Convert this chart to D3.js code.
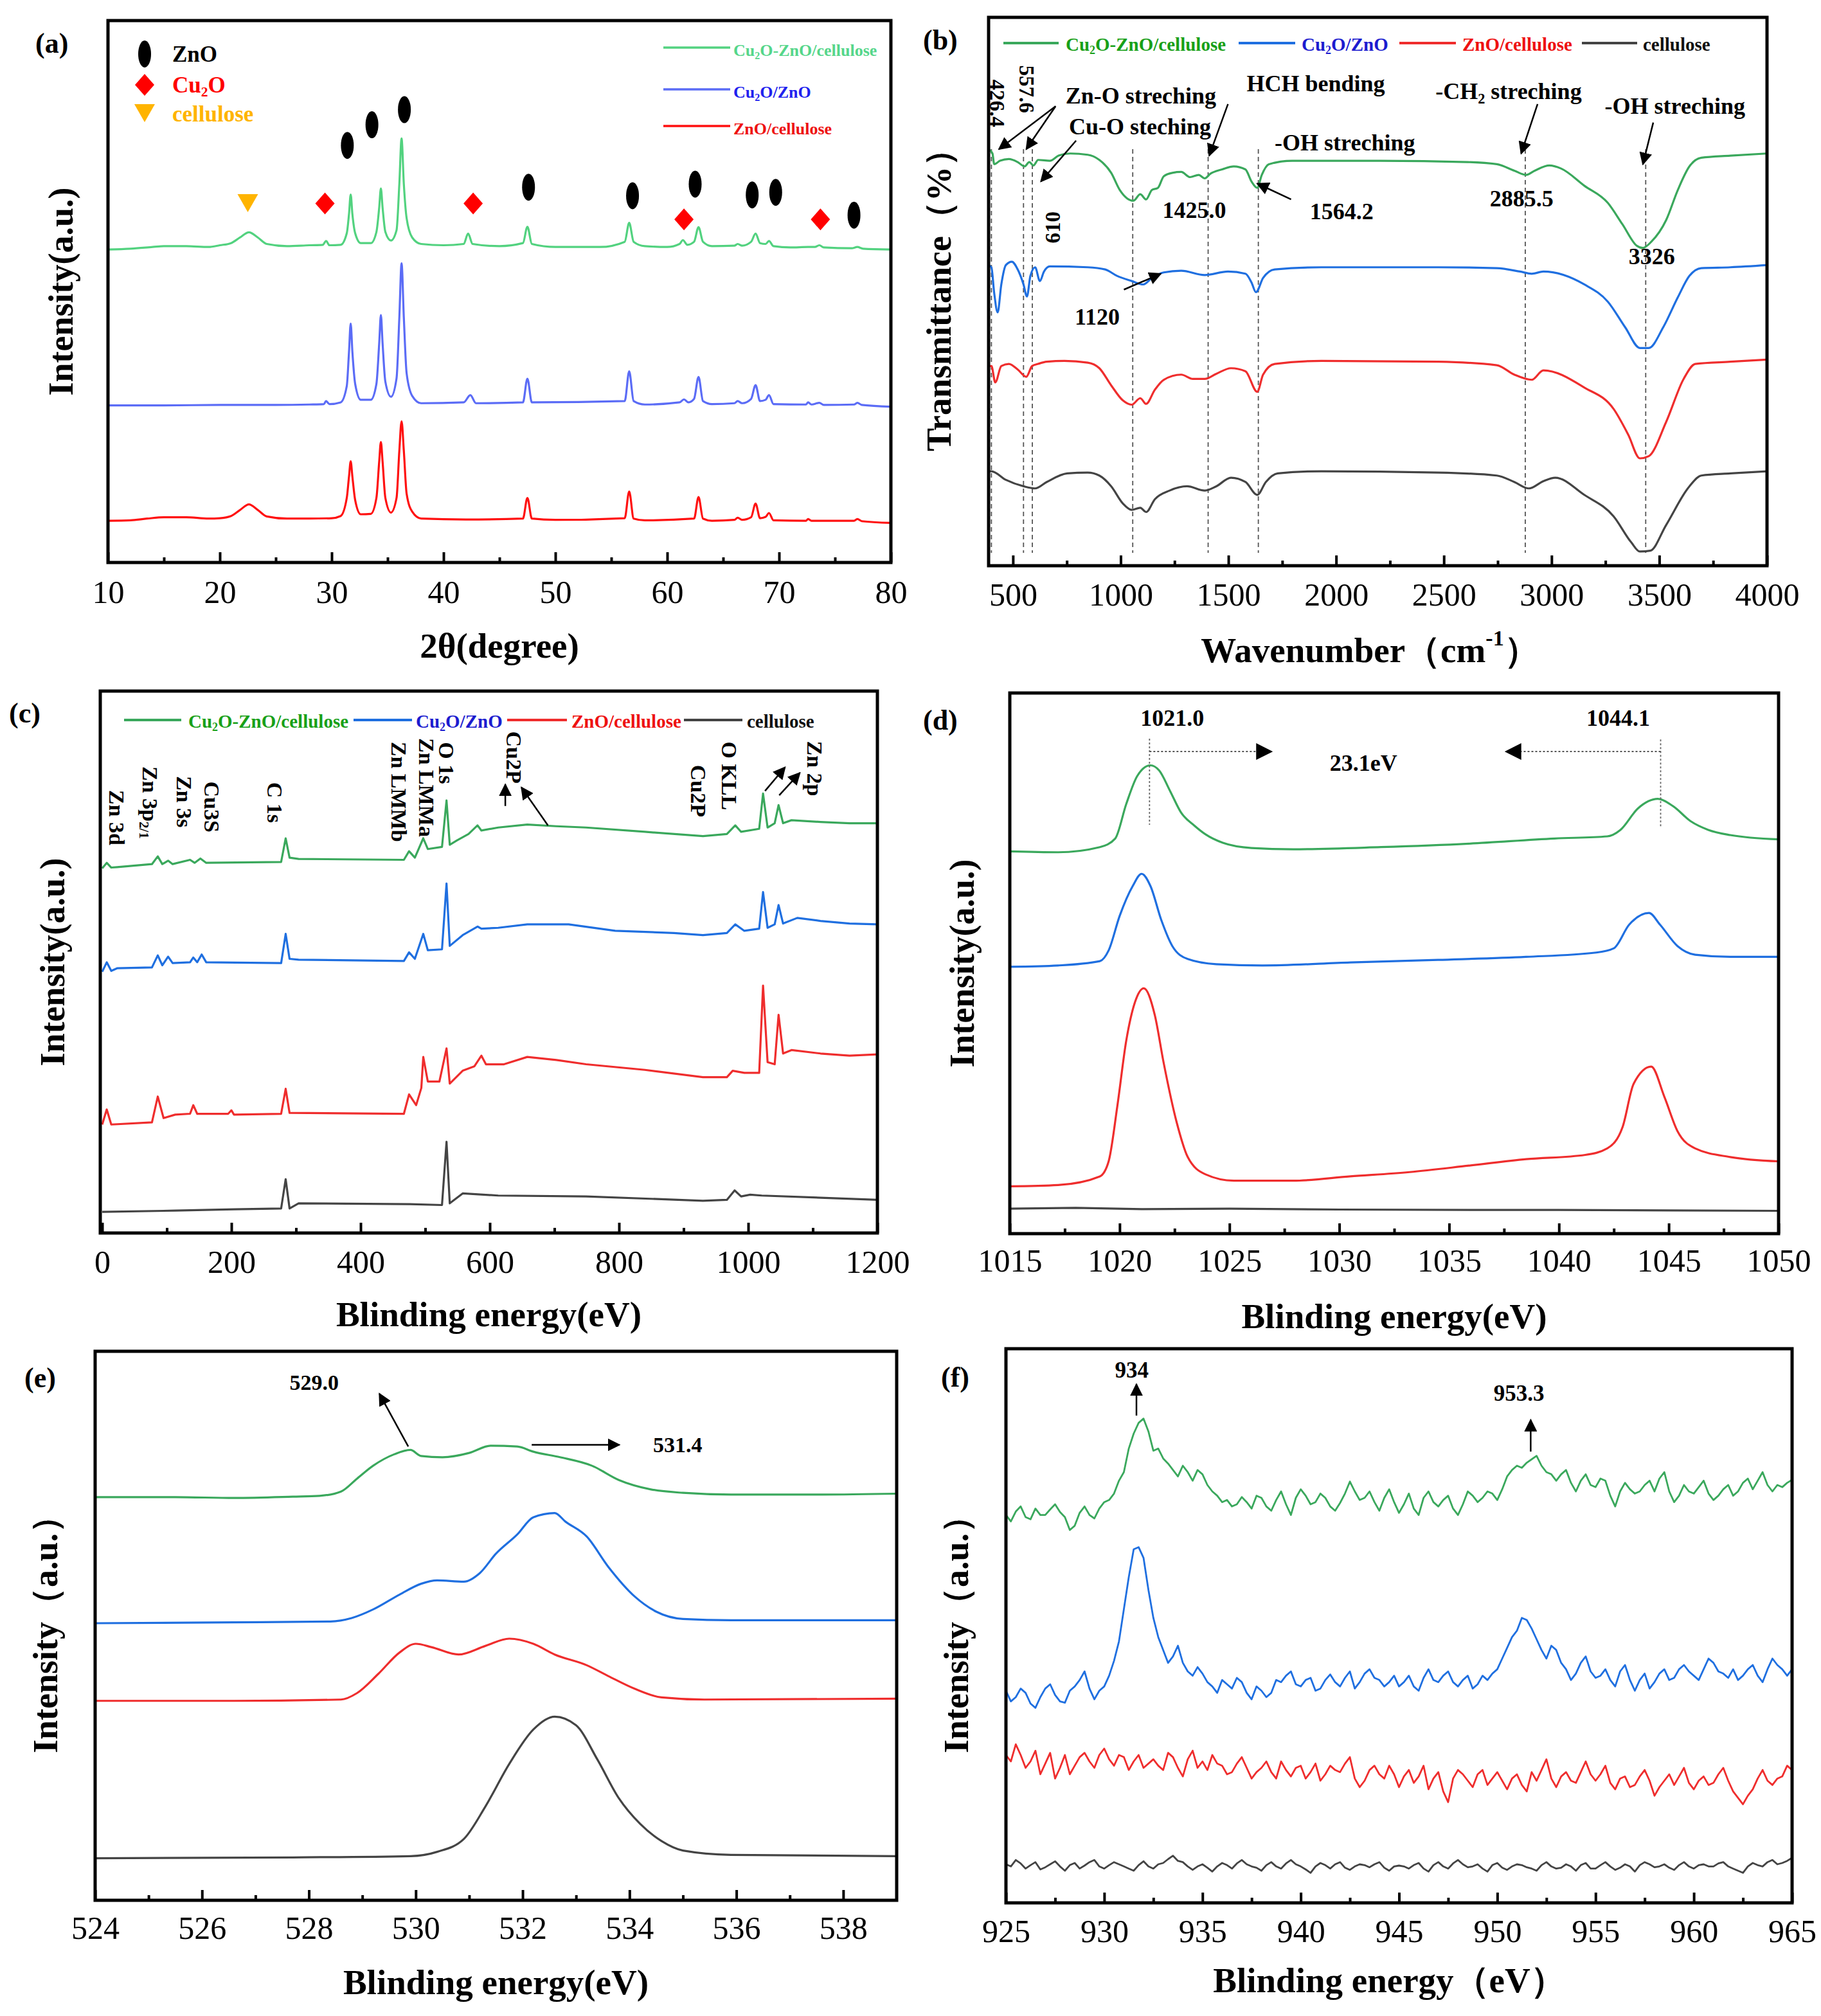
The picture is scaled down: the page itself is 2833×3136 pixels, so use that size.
<!DOCTYPE html>
<html><head><meta charset="utf-8">
<script src="https://cdn.jsdelivr.net/npm/d3@7"></script>
<style>body{margin:0;background:#fff} svg text{font-family:"Liberation Serif","Times New Roman",serif}</style>
</head><body>
<svg id="fig" width="2833" height="3136" xmlns="http://www.w3.org/2000/svg"></svg>
<script>
// ---------------- DATA ----------------
const seriesNames = ["Cu2O-ZnO/cellulose","Cu2O/ZnO","ZnO/cellulose","cellulose"];

// (a) XRD: [2theta, intensity a.u. incl. offset]
const xrdCu2OZnOCell = [[10,727],[12,729],[14,733],[15,735],[17,735],[19,733],[20,737],[21,742],[21.8,755],[22.6,767],[23.4,755],[24.2,740],[26,735],[28,737],[29.2,738],[29.5,747],[29.8,737],[30.8,738],[31.35,765],[31.55,810],[31.7,855],[31.85,810],[32.1,765],[32.6,742],[33.5,742],[34.0,768],[34.25,825],[34.4,869],[34.55,825],[34.8,768],[35.3,748],[35.8,772],[36.05,880],[36.25,985],[36.45,880],[36.7,800],[37.2,755],[38,740],[40,737],[41.8,740],[42.2,764],[42.6,740],[45,735],[47.1,742],[47.5,780],[47.9,740],[50,733],[54,733],[56.2,745],[56.6,789],[57,745],[58,735],[60,733],[61.1,740],[61.4,749],[61.8,738],[62.4,745],[62.8,779],[63.2,745],[64,735],[66,736],[66.3,740],[66.7,736],[67.5,745],[67.9,764],[68.3,742],[68.8,740],[69.1,747],[69.5,735],[71,732],[72.6,733],[73.2,733],[73.6,737],[74,732],[76.5,730],[77,733],[77.5,729],[80,727]];
const xrdCu2OZnO = [[10,365],[15,365],[20,366],[25,366],[28,367],[29.3,368],[29.5,375],[29.8,368],[30.8,372],[31.35,410],[31.55,490],[31.7,555],[31.85,490],[32.1,415],[32.6,378],[33.5,378],[34.0,415],[34.25,510],[34.4,575],[34.55,510],[34.8,420],[35.3,385],[35.8,428],[36.05,570],[36.25,695],[36.45,570],[36.7,440],[37.2,387],[38,370],[41.8,372],[42.4,389],[42.9,370],[47.1,372],[47.5,427],[47.9,372],[56.2,375],[56.6,444],[57,375],[58,367],[61.1,372],[61.5,379],[61.9,372],[62.4,380],[62.8,431],[63.2,375],[64,368],[66,370],[66.3,375],[66.7,370],[67.5,380],[67.9,412],[68.3,375],[68.8,378],[69.1,389],[69.5,368],[72.4,367],[72.6,372],[72.9,367],[73.6,371],[74,366],[76.7,367],[77,371],[77.4,366],[80,362]];
const xrdZnOCell = [[10,97],[12,98],[13.5,102],[15,105],[17,105],[19,102],[20,103],[21,108],[21.8,122],[22.6,135],[23.4,122],[24.2,107],[26,102],[28,102],[30,103],[30.8,108],[31.35,150],[31.55,200],[31.7,235],[31.85,200],[32.1,145],[32.6,112],[33.5,113],[34.0,150],[34.25,235],[34.4,280],[34.55,235],[34.8,150],[35.3,116],[35.8,150],[36.05,260],[36.25,328],[36.45,260],[36.7,160],[37.2,118],[38,102],[42,100],[47.1,102],[47.5,150],[47.9,102],[50,99],[56.2,103],[56.6,165],[57,102],[58,98],[62.4,102],[62.8,152],[63.2,102],[64,97],[66,99],[66.3,104],[66.7,99],[67.5,105],[67.9,137],[68.3,103],[68.8,106],[69.1,115],[69.5,98],[72.4,97],[72.6,101],[72.9,97],[76.7,97],[77,101],[77.4,96],[80,92]];
const xrdZnOMarks = [[31.4,969],[33.6,1017],[36.5,1052],[47.6,872],[56.9,852],[62.5,879],[67.6,854],[69.7,860],[76.7,807]];
const xrdCu2OMarks = [[29.4,834],[42.65,834],[61.5,797],[73.7,797]];
const xrdCellMarks = [[22.5,835]];
const xrdTicks = [10,20,30,40,50,60,70,80];

// (b) FTIR: [wavenumber, transmittance a.u. incl. offset]
const ftirCu2OZnOCell = [[387,970],[405,960],[413,935],[440,943],[481,947],[522,940],[554,930],[576,940],[595,932],[617,945],[671,943],[712,955],[766,960],[847,957],[901,945],[956,915],[996,875],[1059,850],[1091,865],[1118,853],[1145,875],[1173,880],[1200,907],[1240,915],[1281,917],[1322,905],[1362,910],[1390,902],[1417,913],[1471,923],[1525,930],[1579,923],[1607,895],[1634,880],[1655,910],[1688,935],[1796,943],[2203,943],[2610,940],[2746,935],[2827,920],[2881,910],[2922,920],[2990,932],[3044,925],[3152,885],[3261,845],[3329,795],[3396,745],[3423,740],[3464,755],[3532,805],[3586,875],[3640,930],[3695,950],[3830,955],[4000,960]];
const ftirCu2OZnO = [[387,700],[400,695],[413,635],[429,590],[446,655],[467,700],[495,708],[522,690],[549,655],[565,627],[581,675],[603,695],[625,663],[644,685],[671,697],[847,695],[928,690],[983,675],[1051,663],[1105,655],[1145,670],[1200,683],[1281,687],[1390,677],[1498,685],[1579,680],[1607,660],[1628,637],[1661,670],[1715,690],[1932,695],[2474,695],[2746,693],[2854,685],[2908,680],[2962,685],[3152,655],[3261,615],[3342,555],[3410,507],[3451,507],[3518,555],[3586,625],[3640,675],[3695,693],[3830,695],[4000,700]];
const ftirZnOCell = [[387,465],[400,465],[418,427],[446,465],[481,470],[522,457],[562,440],[589,465],[617,470],[657,475],[739,477],[847,473],[901,460],[956,420],[1010,385],[1051,375],[1091,390],[1118,377],[1159,410],[1200,433],[1281,445],[1335,435],[1390,435],[1444,447],[1512,460],[1579,453],[1634,405],[1661,445],[1715,470],[1932,477],[2474,475],[2746,467],[2827,445],[2908,433],[2962,455],[3152,415],[3288,365],[3356,305],[3410,250],[3451,255],[3532,335],[3613,435],[3667,470],[3830,475],[4000,480]];
const ftirCell = [[387,220],[400,220],[467,200],[549,185],[603,180],[657,195],[752,215],[847,217],[901,210],[956,185],[1010,145],[1051,130],[1091,135],[1118,125],[1159,155],[1227,175],[1308,185],[1390,175],[1444,185],[1512,205],[1579,195],[1634,165],[1674,195],[1729,215],[1932,220],[2474,217],[2746,210],[2827,195],[2895,180],[2962,197],[3017,205],[3152,165],[3288,115],[3369,55],[3410,33],[3458,35],[3532,95],[3640,185],[3695,210],[3830,215],[4000,220]];
const ftirMarkLines = [400,549,590,1056,1406,1639,2878,3437];
const ftirTicks = [500,1000,1500,2000,2500,3000,3500,4000];

// (c) XPS survey: [binding energy, intensity]
const surveyCu2OZnOCell = [[0,847],[7,860],[14,849],[23,850],[77,857],[86,875],[93,857],[102,865],[109,857],[136,867],[143,860],[152,870],[161,860],[277,862],[284,917],[290,872],[304,869],[467,867],[475,887],[484,872],[497,917],[504,892],[526,897],[533,1005],[538,902],[549,912],[567,927],[581,947],[587,935],[613,942],[658,949],[703,945],[749,942],[840,932],[930,922],[967,927],[980,947],[989,932],[1017,939],[1023,1021],[1030,942],[1041,952],[1047,994],[1054,952],[1067,959],[1112,955],[1157,952],[1200,952]];
const surveyCu2OZnO = [[0,607],[7,629],[14,609],[23,615],[77,617],[86,645],[93,622],[102,642],[109,627],[136,629],[141,640],[147,629],[154,647],[161,629],[277,627],[284,695],[290,637],[304,635],[467,632],[475,652],[484,637],[497,695],[504,657],[526,659],[533,812],[538,667],[558,692],[581,712],[587,707],[613,709],[658,717],[722,717],[794,702],[885,697],[930,692],[967,697],[980,717],[994,702],[1017,707],[1023,792],[1030,709],[1041,717],[1047,762],[1054,719],[1076,732],[1112,725],[1157,719],[1200,717]];
const surveyZnOCell = [[0,252],[7,287],[14,252],[77,257],[86,317],[95,267],[113,275],[136,277],[141,297],[147,277],[195,277],[200,285],[204,275],[277,277],[284,335],[290,279],[467,277],[475,322],[486,297],[494,337],[497,409],[504,352],[522,352],[533,429],[538,347],[558,377],[576,387],[587,412],[594,392],[622,392],[658,409],[703,402],[749,392],[840,379],[930,362],[967,362],[976,377],[994,372],[1017,372],[1023,575],[1030,397],[1041,392],[1047,507],[1054,417],[1067,425],[1112,417],[1157,412],[1200,415]];
const surveyCell = [[0,49],[113,52],[204,55],[277,57],[284,125],[290,57],[304,69],[477,67],[526,65],[533,212],[538,69],[558,92],[613,87],[749,85],[930,75],[967,77],[979,99],[989,85],[1003,89],[1021,87],[1112,82],[1200,77]];
const surveyTicks = [0,200,400,600,800,1000,1200];

// (d) Zn 2p
const zn2pCu2OZnOCell = [[1015,888],[1017.2,886],[1019.1,898],[1019.8,918],[1020.3,998],[1020.8,1063],[1021.4,1088],[1021.8,1076],[1022.3,1028],[1022.8,978],[1023.4,948],[1023.9,928],[1024.7,908],[1026.0,896],[1027.9,893],[1031.9,898],[1035.9,906],[1039.8,918],[1042.2,923],[1042.8,938],[1043.6,988],[1044.5,1010],[1045.2,993],[1046.0,958],[1046.8,938],[1047.8,926],[1050,916]];
const zn2pCu2OZnO = [[1015,620],[1017.2,623],[1019.1,633],[1019.5,658],[1020.0,738],[1020.6,808],[1021.0,836],[1021.4,808],[1021.9,728],[1022.4,668],[1023.1,638],[1024.4,626],[1026.5,623],[1030.5,630],[1034.5,636],[1038.5,643],[1041.7,653],[1042.5,663],[1043.2,718],[1044.1,745],[1044.6,718],[1045.4,668],[1046.2,648],[1047.8,643],[1050,643]];
const zn2pZnOCell = [[1015,110],[1017.2,113],[1019.1,133],[1019.5,168],[1019.9,298],[1020.3,448],[1020.7,538],[1021.1,570],[1021.6,508],[1022.0,398],[1022.6,258],[1023.1,178],[1023.9,138],[1025.2,123],[1027.9,123],[1030.5,133],[1033.2,143],[1035.9,158],[1038.5,173],[1041.2,183],[1042.2,198],[1042.9,248],[1043.4,348],[1044.2,388],[1044.8,318],[1045.4,238],[1046.2,198],[1047.8,178],[1050,168]];
const zn2pCell = [[1015,58],[1018,60],[1021,57],[1025,58],[1030,56],[1036,55],[1040,55],[1045,54],[1050,53]];
const zn2pTicks = [1015,1020,1025,1030,1035,1040,1045,1050];

// (e) O 1s
const o1sCu2OZnOCell = [[524,940],[525.5,940],[526.6,938],[527.7,941],[528.2,943],[528.6,953],[528.9,983],[529.2,1013],[529.6,1040],[529.9,1050],[530.1,1036],[530.5,1033],[531.0,1043],[531.4,1060],[531.9,1058],[532.2,1046],[532.7,1033],[533.3,1013],[533.8,980],[534.4,958],[535.0,950],[535.9,946],[537.6,946],[539,948]];
const o1sCu2OZnO = [[524,646],[526.6,648],[528.4,650],[528.8,658],[529.2,678],[529.7,713],[530.1,738],[530.4,746],[530.9,743],[531.2,763],[531.5,808],[531.9,853],[532.2,893],[532.6,903],[532.8,883],[533.2,848],[533.6,778],[534.1,708],[534.5,673],[535.0,656],[535.9,653],[539,653]];
const o1sZnOCell = [[524,465],[526.6,465],[528.6,468],[528.9,483],[529.3,528],[529.7,578],[530.0,598],[530.3,590],[530.8,573],[531.3,593],[531.75,610],[532.2,598],[532.6,573],[533.2,548],[533.6,523],[534.1,493],[534.6,473],[535.4,468],[539,470]];
const o1sCell = [[524,98],[527.7,100],[529.9,103],[530.4,113],[530.9,143],[531.3,218],[531.75,318],[532.2,398],[532.6,428],[533.0,408],[533.4,328],[533.8,238],[534.2,178],[534.6,138],[535.0,116],[535.9,106],[539,103]];
const o1sTicks = [524,526,528,530,532,534,536,538];

// (f) Cu 2p : readings at half-eV points and at the quarter points between them
const cu2pEnergy = [925,925.5,926,926.5,927,927.5,928,928.5,929,929.5,930,930.5,931,931.5,932,932.5,933,933.5,934,934.5,935,935.5,936,936.5,937,937.5,938,938.5,939,939.5,940,940.5,941,941.5,942,942.5,943,943.5,944,944.5,945,945.5,946,946.5,947,947.5,948,948.5,949,949.5,950,950.5,951,951.5,952,952.5,953,953.5,954,954.5,955,955.5,956,956.5,957,957.5,958,958.5,959,959.5,960,960.5,961,961.5,962,962.5,963,963.5,964,964.5,965];
const cu2pCu2OZnOCell = [905,913,900,920,905,930,900,880,925,897,935,955,1005,1095,1130,1055,1037,1010,1020,985,1000,960,935,925,947,920,945,915,960,905,965,930,955,925,933,983,940,960,915,965,910,955,905,960,925,950,905,960,935,960,940,995,1020,1027,1043,1005,985,1010,960,1000,970,985,925,980,955,975,960,1005,935,975,955,985,940,965,950,980,965,1005,960,970,987];
const cu2pCu2OZnO = [495,480,490,455,500,485,467,505,540,475,505,565,685,825,805,665,590,575,560,530,535,505,520,500,515,475,495,490,515,540,505,525,500,533,505,540,515,545,520,515,505,530,495,545,515,540,505,530,510,520,545,595,635,660,615,570,590,545,535,575,525,545,505,555,495,535,515,545,525,555,530,545,560,535,545,530,555,515,570,545,545];
const cu2pZnOCell = [345,370,315,355,325,290,345,320,350,315,360,320,340,330,315,335,310,340,295,355,330,345,320,305,340,290,315,305,330,295,320,305,285,320,305,340,270,310,300,320,270,310,295,265,305,235,310,285,300,275,305,265,300,260,285,335,270,305,280,330,285,320,265,295,275,310,250,285,275,315,265,295,280,315,260,230,265,310,275,295,310];
const cu2pCell = [90,100,80,95,83,97,75,93,87,100,80,95,85,75,97,80,93,110,95,77,90,73,93,80,100,85,75,95,80,100,85,70,93,80,95,77,90,83,95,75,87,80,93,73,95,80,100,83,90,73,93,77,90,83,75,95,80,90,75,93,80,95,77,90,73,95,83,90,77,95,80,90,85,95,80,70,93,85,100,93,105];
const cu2pEnergyMid = [925.25,925.75,926.25,926.75,927.25,927.75,928.25,928.75,929.25,929.75,930.25,930.75,931.25,931.75,932.25,932.75,933.25,933.75,934.25,934.75,935.25,935.75,936.25,936.75,937.25,937.75,938.25,938.75,939.25,939.75,940.25,940.75,941.25,941.75,942.25,942.75,943.25,943.75,944.25,944.75,945.25,945.75,946.25,946.75,947.25,947.75,948.25,948.75,949.25,949.75,950.25,950.75,951.25,951.75,952.25,952.75,953.25,953.75,954.25,954.75,955.25,955.75,956.25,956.75,957.25,957.75,958.25,958.75,959.25,959.75,960.25,960.75,961.25,961.75,962.25,962.75,963.25,963.75,964.25,964.75];
const cu2pCu2OZnOCellMid = [890,925,895,905,918,912,870,910,905,920,940,985,1060,1120,1100,1060,1025,995,1005,1010,975,950,940,930,935,950,925,940,930,945,950,935,945,915,955,960,945,935,945,935,930,920,945,935,940,920,930,950,945,955,965,1010,1015,1035,1020,1000,1000,980,985,975,990,950,960,965,960,985,990,960,950,960,970,955,950,975,960,990,985,975,975,980];
const cu2pCu2OZnOMid = [470,500,465,480,510,470,495,520,500,495,530,610,760,830,730,620,560,600,540,550,515,490,510,525,490,505,480,520,530,510,520,495,520,515,525,500,535,525,505,530,515,505,525,520,530,515,520,500,530,535,570,620,665,640,590,600,560,520,560,540,530,520,540,520,520,500,535,520,545,540,520,570,540,525,520,545,530,545,555,530];
const cu2pZnOCellMid = [330,345,330,300,350,315,300,340,330,345,335,345,310,345,325,320,350,315,335,315,310,325,300,325,315,305,330,290,310,315,290,325,300,310,325,290,285,320,290,300,295,280,320,290,260,290,300,270,310,290,285,290,275,305,310,290,295,285,305,300,300,280,290,270,295,285,270,300,295,280,285,275,300,285,245,250,290,285,290,320];
const cu2pCellMid = [85,92,88,78,90,85,88,80,95,85,88,90,80,88,85,90,102,98,85,85,82,85,88,92,90,82,88,85,92,90,78,85,88,90,82,85,88,90,82,85,85,88,80,88,85,92,90,85,80,88,82,85,88,80,88,85,82,85,88,80,88,85,82,85,88,90,85,82,88,85,88,85,92,85,75,85,88,95,90,98];
const cu2pTicks = [925,930,935,940,945,950,955,960,965];

// ---------------- DRAWING ----------------
const FONT = '"Liberation Serif","Times New Roman",serif';
const svg = d3.select("#fig");
svg.append("rect").attr("width",2833).attr("height",3136).attr("fill","#fff");
const defs = svg.append("defs");
defs.append("marker").attr("id","ah").attr("viewBox","0 0 10 10").attr("refX",9).attr("refY",5)
  .attr("markerWidth",20).attr("markerHeight",20).attr("markerUnits","userSpaceOnUse").attr("orient","auto")
  .append("path").attr("d","M0,0L10,5L0,10z").attr("fill","#000");
defs.append("marker").attr("id","ahBig").attr("viewBox","0 0 10 10").attr("refX",9).attr("refY",5)
  .attr("markerWidth",26).attr("markerHeight",26).attr("markerUnits","userSpaceOnUse").attr("orient","auto")
  .append("path").attr("d","M0,0L10,5L0,10z").attr("fill","#000");

function rich(g, x, y, parts, o) {
  const size = o.size;
  const t = g.append("text").attr("x",x).attr("y",y).attr("font-size",size)
    .style("font-family",FONT).attr("font-weight",o.weight||"bold").attr("fill",o.fill||"#000")
    .attr("text-anchor",o.anchor||"start").attr("dominant-baseline","central");
  if (o.rot) t.attr("transform",`rotate(${o.rot},${x},${y})`);
  let shift = 0;
  parts.forEach(p => {
    const s = typeof p === "string" ? p : p[0];
    const k = typeof p === "string" ? "n" : p[1];
    const target = k==="sub" ? size*0.3 : k==="sup" ? -size*0.35 : 0;
    const ts = t.append("tspan").text(s);
    if (target - shift !== 0) ts.attr("dy", target - shift);
    if (k !== "n") ts.attr("font-size", size*0.62);
    shift = target;
  });
  return t;
}

let clipId = 0;
function panel(c) {
  const g = svg.append("g");
  const x = d3.scaleLinear().domain(c.xd).range([c.l, c.r]);
  const y = d3.scaleLinear().domain(c.yd).range([c.b, c.t]);
  const id = "clip" + (clipId++);
  defs.append("clipPath").attr("id",id).append("rect").attr("x",c.l).attr("y",c.t).attr("width",c.r-c.l).attr("height",c.b-c.t);
  const gc = g.append("g").attr("clip-path",`url(#${id})`);
  const ga = g.append("g");
  const ax = ga.append("g").attr("transform",`translate(0,${c.b})`)
    .call(d3.axisBottom(x).tickValues(c.major).tickSize(-16).tickFormat(d3.format("d")));
  ax.attr("font-family",null).style("font-family",FONT);
  ax.select(".domain").remove();
  ax.selectAll(".tick line").attr("stroke","#000").attr("stroke-width",4);
  ax.selectAll(".tick text").attr("y", c.tickY - c.b).attr("dy","0.35em").attr("font-size",50)
    .style("font-family",FONT).attr("font-weight","normal").attr("fill","#000");
  const mi = ga.append("g").attr("transform",`translate(0,${c.b})`)
    .call(d3.axisBottom(x).tickValues(c.minor).tickSize(-8).tickFormat(""));
  mi.select(".domain").remove();
  mi.selectAll(".tick line").attr("stroke","#000").attr("stroke-width",4);
  ga.append("rect").attr("x",c.l).attr("y",c.t).attr("width",c.r-c.l).attr("height",c.b-c.t)
    .attr("fill","none").attr("stroke","#000").attr("stroke-width",5);
  rich(ga, (c.l+c.r)/2 + (c.xtOff||0), c.titleY, c.xTitle, {size:55, anchor:"middle"});
  rich(ga, c.yTitleX, (c.t+c.b)/2, c.yTitle, {size:54, anchor:"middle", rot:-90});
  rich(ga, c.lab[0], c.lab[1], [c.label], {size:44, anchor:"start"});
  return {g, gc, ga, x, y};
}

function drawLine(P, data, color, curve, w) {
  P.gc.append("path").datum(data)
    .attr("d", d3.line().x(d=>P.x(d[0])).y(d=>P.y(d[1])).curve(curve||d3.curveMonotoneX))
    .attr("fill","none").attr("stroke",color).attr("stroke-width",w||3.2).attr("stroke-linejoin","round");
}
function arrow(P, x1,y1,x2,y2, marker, dash) {
  const l = P.ga.append("line").attr("x1",P.x(x1)).attr("y1",P.y(y1)).attr("x2",P.x(x2)).attr("y2",P.y(y2))
    .attr("stroke","#000").attr("stroke-width",2.5).attr("marker-end",`url(#${marker||"ah"})`);
  if (dash) l.attr("stroke-dasharray",dash).attr("stroke","#555").attr("stroke-width",2);
}
function label(P, x, y, parts, o) { return rich(P.ga, P.x(x), P.y(y), parts, o); }

const C2 = {green:"#3aa85c", blue:"#1f6fe0", red:"#ef2d2d", grey:"#444444"};
const T2 = {green:"#18a018", blue:"#1c1ccf", red:"#ee1111", grey:"#111111"};

// ===== (a) =====
const A = panel({xd:[10,80], yd:[0,1259], l:168, r:1386, t:32, b:875, major:xrdTicks, minor:[15,25,35,45,55,65,75],
  tickY:920, titleY:1004, yTitleX:95, lab:[55,67], label:"(a)",
  xTitle:["2θ(degree)"], yTitle:["Intensity(a.u.)"]});
const CA = {green:"#52d27f", blue:"#5b6cf6", red:"#ff1010"};
drawLine(A, xrdCu2OZnOCell, CA.green);
drawLine(A, xrdCu2OZnO, CA.blue);
drawLine(A, xrdZnOCell, CA.red);
A.ga.selectAll("ellipse.zno").data(xrdZnOMarks).join("ellipse").attr("class","zno")
  .attr("cx",d=>A.x(d[0])).attr("cy",d=>A.y(d[1])).attr("rx",10).attr("ry",21).attr("fill","#000");
A.ga.selectAll("path.cu2o").data(xrdCu2OMarks).join("path").attr("class","cu2o")
  .attr("d",d=>{const cx=A.x(d[0]),cy=A.y(d[1]);return `M${cx},${cy-17}L${cx+15},${cy}L${cx},${cy+17}L${cx-15},${cy}Z`;}).attr("fill","#ff0000");
A.ga.selectAll("path.cel").data(xrdCellMarks).join("path").attr("class","cel")
  .attr("d",d=>{const cx=A.x(d[0]),cy=A.y(d[1]);return `M${cx-16},${cy-14}L${cx+16},${cy-14}L${cx},${cy+14}Z`;}).attr("fill","#ffb400");
A.ga.append("ellipse").attr("cx",225).attr("cy",84).attr("rx",10).attr("ry",21).attr("fill","#000");
A.ga.append("path").attr("d","M225,115L240,132L225,149L210,132Z").attr("fill","#ff0000");
A.ga.append("path").attr("d","M209,162L241,162L225,190Z").attr("fill","#ffb400");
rich(A.ga,268,84,["ZnO"],{size:35});
rich(A.ga,268,132,["Cu",["2","sub"],"O"],{size:35,fill:"#ff0000"});
rich(A.ga,268,177,["cellulose"],{size:35,fill:"#ffb400"});
[[CA.green,"#55d68a",74,["Cu",["2","sub"],"O-ZnO/cellulose"]],[CA.blue,"#2020ee",139,["Cu",["2","sub"],"O/ZnO"]],[CA.red,"#ee1111",196,["ZnO/cellulose"]]]
 .forEach(([lc,tc,yy,parts])=>{
  A.ga.append("line").attr("x1",1032).attr("x2",1136).attr("y1",yy).attr("y2",yy).attr("stroke",lc).attr("stroke-width",3.5);
  rich(A.ga,1141,yy+4,parts,{size:26,fill:tc});
 });

// ===== (b) =====
const B = panel({xd:[387,4000], yd:[0,1277], l:1538, r:2749, t:27, b:880, major:ftirTicks, minor:[750,1250,1750,2250,2750,3250,3750],
  tickY:924, titleY:1011, xtOff:-12, yTitleX:1461, lab:[1436,62], label:"(b)",
  xTitle:["Wavenumber（cm",["-1","sup"],"）"], yTitle:["Transmittance（%）"]});
ftirMarkLines.forEach(v=>{
  B.gc.append("line").attr("x1",B.x(v)).attr("x2",B.x(v)).attr("y1",B.y(970)).attr("y2",B.y(30))
    .attr("stroke","#555").attr("stroke-width",1.8).attr("stroke-dasharray","7,5");
});
drawLine(B, ftirCu2OZnOCell, C2.green);
drawLine(B, ftirCu2OZnO, C2.blue);
drawLine(B, ftirZnOCell, C2.red);
drawLine(B, ftirCell, C2.grey);
function lineLegend(P, yy, items) {
  items.forEach(([lc,tc,x1,x2,tx,parts])=>{
    P.ga.append("line").attr("x1",x1).attr("x2",x2).attr("y1",yy).attr("y2",yy).attr("stroke",lc).attr("stroke-width",4);
    rich(P.ga,tx,yy+2,parts,{size:29,fill:tc});
  });
}
lineLegend(B, 67, [
  [C2.green,T2.green,1561,1647,1658,["Cu",["2","sub"],"O-ZnO/cellulose"]],
  [C2.blue,T2.blue,1927,2015,2025,["Cu",["2","sub"],"O/ZnO"]],
  [C2.red,T2.red,2177,2265,2275,["ZnO/cellulose"]],
  [C2.grey,T2.grey,2461,2547,2556,["cellulose"]]]);
const fb = {size:36};
label(B,427,1077,["426.4"],{size:33,anchor:"middle",rot:90});
label(B,562,1110,["557.6"],{size:33,anchor:"middle",rot:90});
label(B,684,788,["610"],{size:33,anchor:"middle",rot:-90});
label(B,744,1095,["Zn-O streching"],fb);
label(B,760,1023,["Cu-O steching"],fb);
label(B,1585,1123,["HCH bending"],fb);
label(B,1715,985,["-OH streching"],fb);
label(B,2461,1105,["-CH",["2","sub"]," streching"],fb);
label(B,3247,1070,["-OH streching"],fb);
label(B,1194,828,["1425.0"],fb);
label(B,1878,825,["1564.2"],fb);
label(B,2713,855,["2885.5"],fb);
label(B,3465,720,["3326"],{size:36,anchor:"middle"});
label(B,787,580,["1120"],fb);
arrow(B,698,1070,435,970);
arrow(B,698,1070,562,970);
arrow(B,793,990,630,895);
arrow(B,1498,1075,1411,955);
arrow(B,1791,853,1634,890);
arrow(B,2935,1075,2859,960);
arrow(B,3472,1032,3424,935);
arrow(B,1015,643,1186,680);

// ===== (c) =====
const Cp = panel({xd:[-3,1200], yd:[0,1259], l:156, r:1365, t:1075, b:1918, major:surveyTicks, minor:[100,300,500,700,900,1100],
  tickY:1962, titleY:2044, yTitleX:82, lab:[14,1109], label:"(c)",
  xTitle:["Blinding energy(eV)"], yTitle:["Intensity(a.u.)"]});
drawLine(Cp, surveyCu2OZnOCell, C2.green, d3.curveLinear);
drawLine(Cp, surveyCu2OZnO, C2.blue, d3.curveLinear);
drawLine(Cp, surveyZnOCell, C2.red, d3.curveLinear);
drawLine(Cp, surveyCell, C2.grey, d3.curveLinear);
lineLegend(Cp, 1120, [
  [C2.green,T2.green,193,282,293,["Cu",["2","sub"],"O-ZnO/cellulose"]],
  [C2.blue,T2.blue,550,641,647,["Cu",["2","sub"],"O/ZnO"]],
  [C2.red,T2.red,789,882,889,["ZnO/cellulose"]],
  [C2.grey,T2.grey,1064,1155,1162,["cellulose"]]]);
const rc = {size:34, anchor:"middle", rot:90};
label(Cp,23,965,["Zn 3d"],rc);
label(Cp,75,1000,["Zn 3p",["2/1","sub"]],rc);
label(Cp,127,1002,["Zn 3s"],rc);
label(Cp,170,990,["Cu3S"],rc);
label(Cp,268,1000,["C 1s"],rc);
label(Cp,460,1025,["Zn LMMb"],rc);
label(Cp,502,1035,["Zn LMMa"],rc);
label(Cp,533,1092,["O 1s"],rc);
label(Cp,638,1105,["Cu2P"],rc);
label(Cp,923,1027,["Cu2P"],rc);
label(Cp,971,1062,["O KLL"],rc);
label(Cp,1103,1079,["Zn 2p"],rc);
arrow(Cp,624,992,624,1042);
arrow(Cp,690,947,649,1035);
arrow(Cp,1026,1027,1057,1082);
arrow(Cp,1048,1017,1080,1069);

// ===== (d) =====
const D = panel({xd:[1015,1050], yd:[0,1256], l:1571, r:2767, t:1078, b:1919, major:zn2pTicks, minor:[1017.5,1022.5,1027.5,1032.5,1037.5,1042.5,1047.5],
  tickY:1960, titleY:2047, yTitleX:1497, lab:[1436,1120], label:"(d)",
  xTitle:["Blinding energy(eV)"], yTitle:["Intensity(a.u.)"]});
drawLine(D, zn2pCu2OZnOCell, C2.green);
drawLine(D, zn2pCu2OZnO, C2.blue);
drawLine(D, zn2pZnOCell, C2.red);
drawLine(D, zn2pCell, C2.grey, d3.curveLinear);
[[1021.36,1150,950],[1044.63,1148,943]].forEach(([xv,y1,y2])=>{
  D.ga.append("line").attr("x1",D.x(xv)).attr("x2",D.x(xv)).attr("y1",D.y(y1)).attr("y2",D.y(y2))
    .attr("stroke","#666").attr("stroke-width",1.8).attr("stroke-dasharray","3,3");
});
arrow(D,1021.36,1120,1026.9,1120,"ahBig","3,3");
arrow(D,1044.63,1120,1037.6,1120,"ahBig","3,3");
label(D,1022.4,1198,["1021.0"],{size:36,anchor:"middle"});
label(D,1042.7,1198,["1044.1"],{size:36,anchor:"middle"});
label(D,1031.1,1093,["23.1eV"],{size:36,anchor:"middle"});

// ===== (e) =====
const E = panel({xd:[524,539], yd:[0,1280], l:148, r:1395, t:2102, b:2956, major:o1sTicks, minor:[525,527,529,531,533,535,537],
  tickY:2998, titleY:3083, yTitleX:71, lab:[38,2143], label:"(e)",
  xTitle:["Blinding energy(eV)"], yTitle:["Intensity（a.u.）"]});
drawLine(E, o1sCu2OZnOCell, C2.green);
drawLine(E, o1sCu2OZnO, C2.blue);
drawLine(E, o1sZnOCell, C2.red);
drawLine(E, o1sCell, C2.grey);
label(E,528.1,1208,["529.0"],{size:34,anchor:"middle"});
label(E,534.9,1063,["531.4"],{size:34,anchor:"middle"});
arrow(E,529.86,1058,529.32,1181);
arrow(E,532.17,1062,533.81,1062);

// ===== (f) =====
const F = panel({xd:[925,965], yd:[0,1293], l:1565, r:2788, t:2098, b:2960, major:cu2pTicks, minor:[927.5,932.5,937.5,942.5,947.5,952.5,957.5,962.5],
  tickY:3003, titleY:3080, xtOff:-15, yTitleX:1488, lab:[1464,2142], label:"(f)",
  xTitle:["Blinding energy（eV）"], yTitle:["Intensity（a.u.）"]});
const mergeF = (vals, mids) => cu2pEnergy.map((e,i)=>[e, vals[i]])
  .concat(cu2pEnergyMid.map((e,i)=>[e, mids[i]]))
  .filter(d=>d[1]!==undefined).sort((a,b)=>a[0]-b[0]);
drawLine(F, mergeF(cu2pCu2OZnOCell, cu2pCu2OZnOCellMid), C2.green, d3.curveLinear, 2.8);
drawLine(F, mergeF(cu2pCu2OZnO, cu2pCu2OZnOMid), C2.blue, d3.curveLinear, 2.8);
drawLine(F, mergeF(cu2pZnOCell, cu2pZnOCellMid), C2.red, d3.curveLinear, 2.8);
drawLine(F, mergeF(cu2pCell, cu2pCellMid), C2.grey, d3.curveLinear, 2.8);
label(F,931.4,1243,["934"],{size:35,anchor:"middle"});
label(F,951.1,1190,["953.3"],{size:35,anchor:"middle"});
arrow(F,931.64,1137,931.64,1210);
arrow(F,951.7,1053,951.7,1127);
</script>
</body></html>
